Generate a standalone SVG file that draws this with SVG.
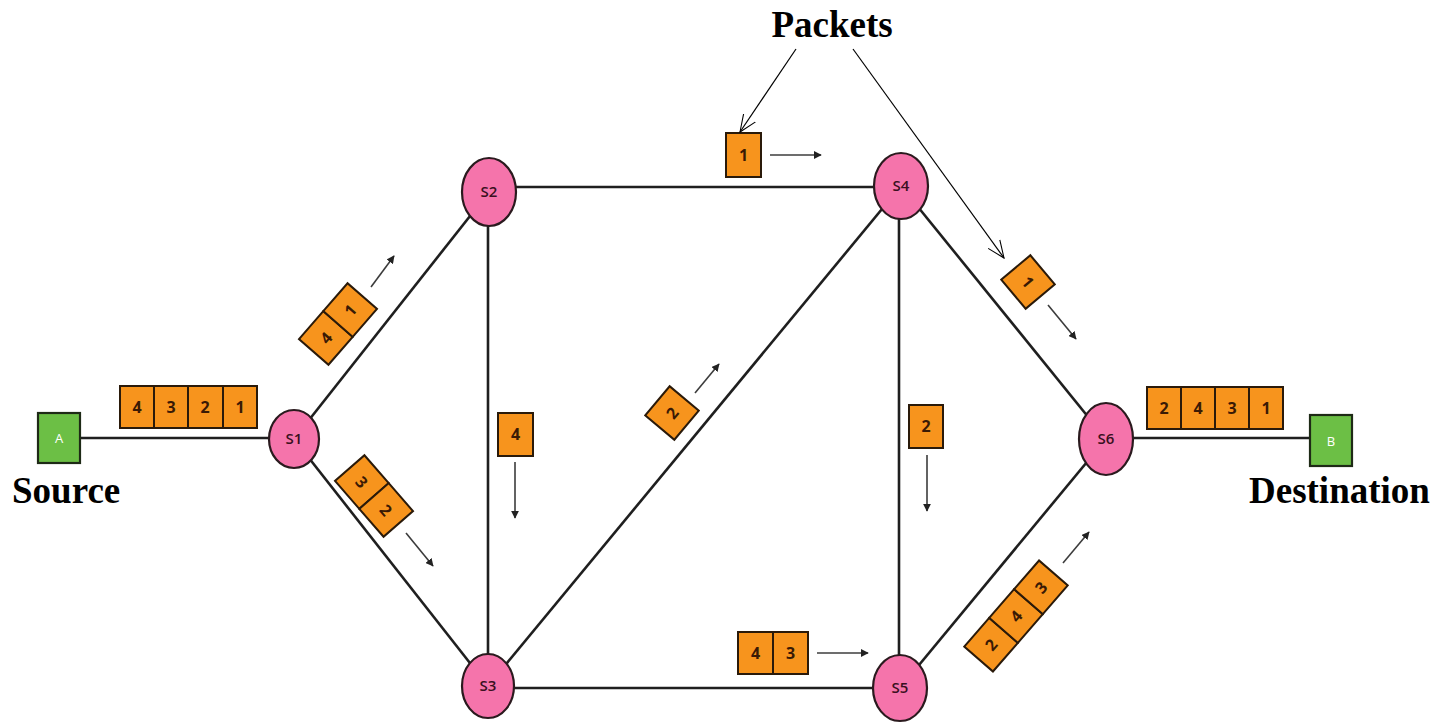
<svg xmlns="http://www.w3.org/2000/svg" width="1439" height="723" viewBox="0 0 1439 723">
  <style>
    .link { stroke: #1f1f1f; stroke-width: 2.6; fill: none; }
    .sw ellipse { fill: #F574AB; stroke: #2a1a1e; stroke-width: 2.2; }
    .sw text { font-family: "Open Sans", "Liberation Sans", sans-serif; font-size: 15px; font-weight: 600; fill: #3a1020; text-anchor: middle; }
    .host rect { fill: #6CBF45; stroke: #1e2a16; stroke-width: 2.2; }
    .host text { font-family: "Open Sans", "Liberation Sans", sans-serif; font-size: 13px; fill: #ffffff; text-anchor: middle; }
    .cell { fill: #F7941D; stroke: #2a1a0a; stroke-width: 2; }
    .pk text { font-family: "Open Sans", "Liberation Sans", sans-serif; font-size: 16px; font-weight: 700; fill: #3a1a05; text-anchor: middle; }
    .move { stroke: #3c3c3c; stroke-width: 1.6; fill: none; marker-end: url(#tip); }
    .callout { stroke: #000; stroke-width: 1.2; fill: none; marker-end: url(#open); }
    .label { font-family: "Liberation Serif", "Times New Roman", serif; font-weight: bold; font-size: 37px; fill: #000; }
  </style>
  <defs>
    <marker id="tip" viewBox="0 0 10 10" refX="9" refY="5" markerWidth="5" markerHeight="5" orient="auto" markerUnits="strokeWidth">
      <path d="M0,0 L10,5 L0,10 z" fill="#222"/>
    </marker>
    <marker id="open" viewBox="0 0 20 20" refX="19" refY="10" markerWidth="18" markerHeight="18" orient="auto" markerUnits="userSpaceOnUse">
      <path d="M0,2 L19,10 L0,18" fill="none" stroke="#000" stroke-width="1.2"/>
    </marker>
  </defs>

  <rect width="1439" height="723" fill="#ffffff"/>

  <!-- links between hosts and switches -->
  <g id="connectors">
    <line class="link" x1="80" y1="438" x2="294" y2="438"/>
    <line class="link" x1="294" y1="439" x2="489" y2="192"/>
    <line class="link" x1="294" y1="439" x2="488" y2="686"/>
    <line class="link" x1="488" y1="192" x2="488" y2="686"/>
    <line class="link" x1="489" y1="187" x2="901" y2="187"/>
    <line class="link" x1="488" y1="688" x2="900" y2="688"/>
    <line class="link" x1="488" y1="686" x2="901" y2="186"/>
    <line class="link" x1="899" y1="186" x2="899" y2="688"/>
    <line class="link" x1="901" y1="186" x2="1106" y2="439"/>
    <line class="link" x1="900" y1="688" x2="1106" y2="439"/>
    <line class="link" x1="1106" y1="438" x2="1310" y2="438"/>
  </g>

  <!-- end hosts -->
  <g id="hostA" class="host">
    <rect x="38" y="413" width="42" height="50"/>
    <text x="59" y="443">A</text>
  </g>
  <g id="hostB" class="host">
    <rect x="1310" y="415" width="42" height="51"/>
    <text x="1331" y="446">B</text>
  </g>

  <!-- switches -->
  <g id="S1" class="sw"><ellipse cx="294" cy="439" rx="25" ry="29"/><text x="294" y="444">S1</text></g>
  <g id="S2" class="sw"><ellipse cx="489" cy="192" rx="27" ry="34"/><text x="489" y="197">S2</text></g>
  <g id="S3" class="sw"><ellipse cx="488" cy="686" rx="26" ry="32"/><text x="488" y="691">S3</text></g>
  <g id="S4" class="sw"><ellipse cx="901" cy="186" rx="27" ry="33"/><text x="901" y="191">S4</text></g>
  <g id="S5" class="sw"><ellipse cx="900" cy="688" rx="27" ry="33"/><text x="900" y="693">S5</text></g>
  <g id="S6" class="sw"><ellipse cx="1106" cy="439" rx="27" ry="36"/><text x="1106" y="444">S6</text></g>

  <!-- packets in transit -->
  <g id="pk-A-S1" class="pk">
    <rect class="cell" x="120" y="386" width="34" height="42"/>
    <rect class="cell" x="154" y="386" width="34" height="42"/>
    <rect class="cell" x="188" y="386" width="35" height="42"/>
    <rect class="cell" x="223" y="386" width="34" height="42"/>
    <text x="137" y="413">4</text><text x="171" y="413">3</text><text x="205" y="413">2</text><text x="240" y="413">1</text>
  </g>
  <g id="pk-S6-B" class="pk">
    <rect class="cell" x="1147" y="387" width="34" height="42"/>
    <rect class="cell" x="1181" y="387" width="34" height="42"/>
    <rect class="cell" x="1215" y="387" width="34" height="42"/>
    <rect class="cell" x="1249" y="387" width="34" height="42"/>
    <text x="1164" y="414">2</text><text x="1198" y="414">4</text><text x="1232" y="414">3</text><text x="1266" y="414">1</text>
  </g>
  <g id="pk-S1-S2" class="pk" transform="translate(338,324) rotate(-49)">
    <rect class="cell" x="-37" y="-19.5" width="37" height="39"/>
    <rect class="cell" x="0" y="-19.5" width="37" height="39"/>
    <text x="-18.5" y="6">4</text><text x="18.5" y="6">1</text>
  </g>
  <line class="move" x1="371" y1="287" x2="394" y2="256"/>
  <g id="pk-S1-S3" class="pk" transform="translate(374,496) rotate(49)">
    <rect class="cell" x="-37" y="-19.5" width="37" height="39"/>
    <rect class="cell" x="0" y="-19.5" width="37" height="39"/>
    <text x="-18.5" y="6">3</text><text x="18.5" y="6">2</text>
  </g>
  <line class="move" x1="406" y1="533" x2="433" y2="566"/>
  <g id="pk-S2-S4" class="pk">
    <rect class="cell" x="726" y="133" width="35" height="44"/>
    <text x="743.5" y="161">1</text>
  </g>
  <line class="move" x1="770" y1="155" x2="821" y2="155"/>
  <g id="pk-S2-S3" class="pk">
    <rect class="cell" x="498" y="413" width="35" height="43"/>
    <text x="515.5" y="440">4</text>
  </g>
  <line class="move" x1="515" y1="462" x2="515" y2="518"/>
  <g id="pk-S3-S4" class="pk" transform="translate(672,413) rotate(-50)">
    <rect class="cell" x="-19" y="-19" width="38" height="38"/>
    <text x="0" y="6">2</text>
  </g>
  <line class="move" x1="695" y1="393" x2="719" y2="364"/>
  <g id="pk-S4-S5" class="pk">
    <rect class="cell" x="909" y="405" width="34" height="43"/>
    <text x="926" y="432">2</text>
  </g>
  <line class="move" x1="927" y1="455" x2="927" y2="511"/>
  <g id="pk-S4-S6" class="pk" transform="translate(1028,282) rotate(50)">
    <rect class="cell" x="-19" y="-19" width="38" height="38"/>
    <text x="0" y="6">1</text>
  </g>
  <line class="move" x1="1048" y1="305" x2="1076" y2="339"/>
  <g id="pk-S3-S5" class="pk">
    <rect class="cell" x="738" y="632" width="35" height="42"/>
    <rect class="cell" x="773" y="632" width="35" height="42"/>
    <text x="755.5" y="659">4</text><text x="790.5" y="659">3</text>
  </g>
  <line class="move" x1="817" y1="653" x2="868" y2="653"/>
  <g id="pk-S5-S6" class="pk" transform="translate(1016,616) rotate(-49)">
    <rect class="cell" x="-57" y="-19" width="38" height="38"/>
    <rect class="cell" x="-19" y="-19" width="38" height="38"/>
    <rect class="cell" x="19" y="-19" width="38" height="38"/>
    <text x="-38" y="6">2</text><text x="0" y="6">4</text><text x="38" y="6">3</text>
  </g>
  <line class="move" x1="1063" y1="563" x2="1089" y2="532"/>

  <!-- captions -->
  <g id="captions">
    <text class="label" x="832" y="37" text-anchor="middle">Packets</text>
    <text class="label" x="12" y="503">Source</text>
    <text class="label" x="1249" y="503">Destination</text>
    <line class="callout" x1="796" y1="49" x2="740" y2="132"/>
    <line class="callout" x1="853" y1="49" x2="1004" y2="258"/>
  </g>
</svg>
